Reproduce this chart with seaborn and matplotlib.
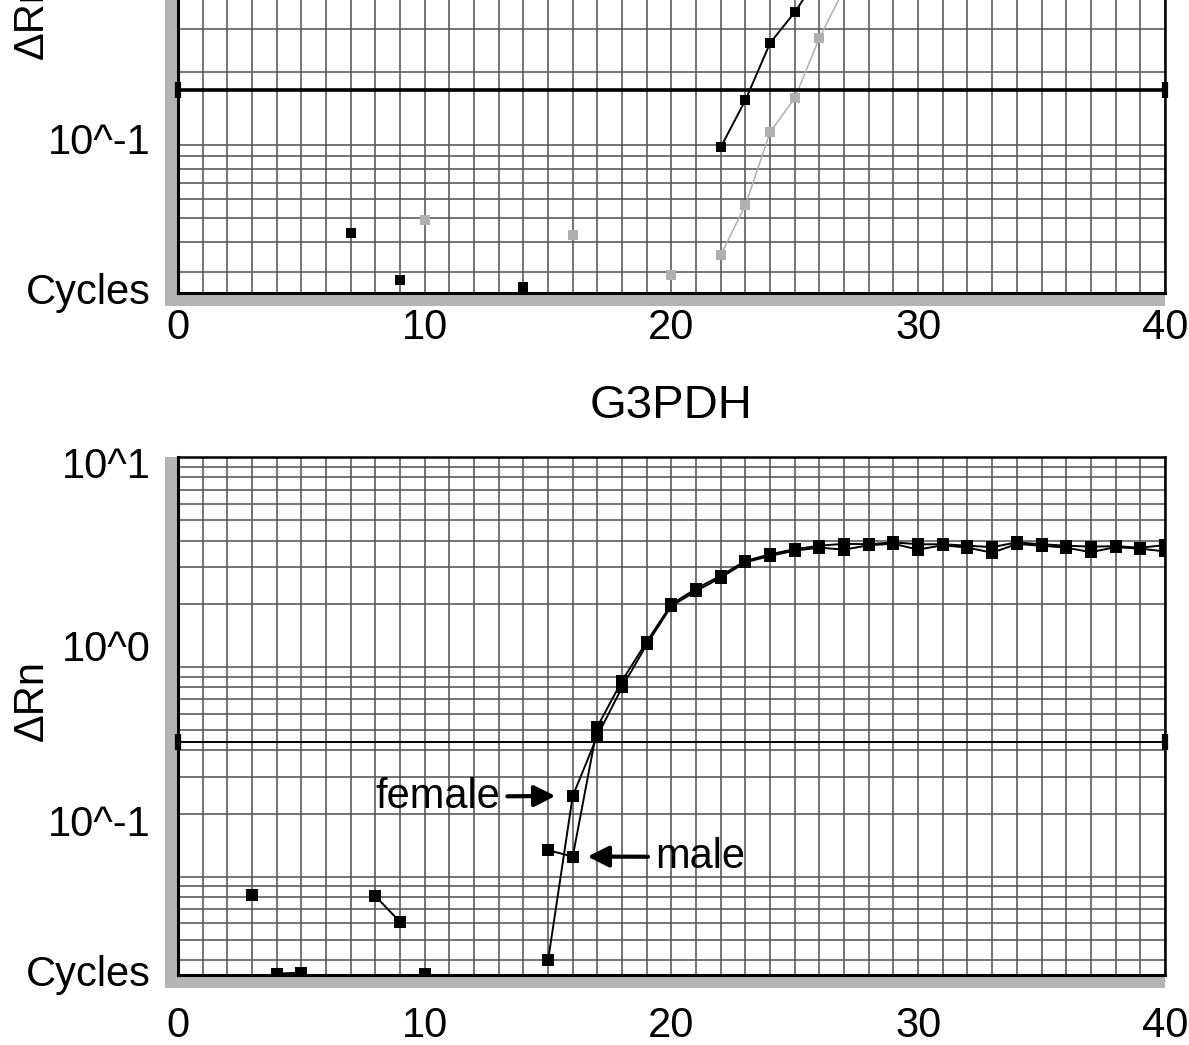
import numpy as np
import pandas as pd
import matplotlib
matplotlib.use('Agg')
import matplotlib.pyplot as plt
import matplotlib.ticker as mticker
from matplotlib.patches import Rectangle
import seaborn as sns

nan = np.nan
cycles = list(range(1, 41))

# G3PDH panel: delta Rn per cycle (nan = not drawn, below the log axis)
g3pdh_female = [nan, nan, 0.082, nan, nan, nan, nan, 0.081, 0.061, nan,
                nan, nan, nan, nan, 0.040, 0.243, 0.47, 0.80, 1.28, 1.95,
                2.30, 2.66, 3.15, 3.38, 3.58, 3.70, 3.62, 3.80, 3.86, 3.62,
                3.80, 3.70, 3.50, 3.85, 3.78, 3.70, 3.52, 3.72, 3.66, 3.55]
g3pdh_male = [nan, nan, nan, 0.0346, 0.035, nan, nan, nan, nan, 0.0346,
              nan, nan, nan, nan, 0.134, 0.125, 0.52, 0.86, 1.32, 1.99,
              2.36, 2.72, 3.20, 3.44, 3.64, 3.78, 3.86, 3.84, 3.92, 3.84,
              3.84, 3.78, 3.72, 3.92, 3.84, 3.78, 3.74, 3.76, 3.70, 3.80]
g3pdh_threshold = 0.44

# upper (cropped) panel
top_black = [nan, nan, nan, nan, nan, nan, 0.0435, nan, 0.0278, nan,
             nan, nan, nan, 0.026, nan, nan, nan, nan, nan, nan,
             nan, 0.098, 0.153, 0.263, 0.352, 0.50, nan, nan, nan, nan,
             nan, nan, nan, nan, nan, nan, nan, nan, nan, nan]
top_gray = [nan, nan, nan, nan, nan, nan, nan, nan, nan, 0.049,
            nan, nan, nan, nan, nan, 0.0427, nan, nan, nan, 0.0292,
            nan, 0.0353, 0.0566, 0.113, 0.156, 0.276, 0.44, nan, nan, nan,
            nan, nan, nan, nan, nan, nan, nan, nan, nan, nan]
top_threshold = 0.168

x_ticks = [0, 10, 20, 30, 40]
y_labels = ["10^1", "10^0", "10^-1", "Cycles"]
y_label_pos = [0.98, 0.627, 0.29, 0.0]   # where the software printed them (axes fraction)


def to_long(values, name):
    s = pd.Series(values, dtype=float)
    seg = s.isna().cumsum()
    df = pd.DataFrame({'cycle': cycles, 'dRn': s.values,
                       'seg': [f'{name}_{k}' for k in seg]})
    return df.dropna()


def draw_series(ax, values, name, color, ms, lw):
    df = to_long(values, name)
    sns.lineplot(data=df, x='cycle', y='dRn', units='seg', estimator=None,
                 color=color, marker='s', markersize=ms, markeredgecolor=color,
                 markeredgewidth=0, linewidth=lw, legend=False, ax=ax)


def style_panel(ax, ylim, xpad, threshold, thr_lw, n_labels):
    ax.set_yscale('log')
    ax.set_xlim(0, 40)
    ax.set_ylim(*ylim)
    ax.xaxis.set_major_locator(mticker.FixedLocator(x_ticks))
    ax.xaxis.set_minor_locator(mticker.MultipleLocator(1))
    ax.yaxis.set_major_locator(mticker.LogLocator(base=10))
    ax.yaxis.set_minor_locator(mticker.LogLocator(base=10, subs=np.arange(2, 10), numticks=20))
    ax.yaxis.set_major_formatter(mticker.NullFormatter())
    ax.yaxis.set_minor_formatter(mticker.NullFormatter())
    ax.grid(True, which='both', color='#555555', lw=1.15)
    ax.set_axisbelow(True)
    ax.tick_params(which='both', direction='out', length=9.5, width=1.5, color='black')
    ax.tick_params(axis='x', which='both', labelsize=30, pad=xpad, labelcolor='black')
    ax.set_xlabel('')
    for side in ['left', 'bottom']:
        ax.spines[side].set_linewidth(2.2)
    for side in ['top', 'right']:
        ax.spines[side].set_linewidth(1.8)
    for sp in ax.spines.values():
        sp.set_color('black')
    # gray strips the ticks sit in
    ax.add_patch(Rectangle((-0.0132, -0.025), 0.0132, 1.025, transform=ax.transAxes,
                           clip_on=False, color='#b4b4b4', zorder=0.1, lw=0))
    ax.add_patch(Rectangle((-0.0132, -0.025), 1.0132, 0.025, transform=ax.transAxes,
                           clip_on=False, color='#b4b4b4', zorder=0.1, lw=0))
    for lbl, pos in list(zip(y_labels, y_label_pos))[-n_labels:]:
        ax.text(-0.028, pos, lbl, transform=ax.transAxes, ha='right', va='center',
                fontsize=30, color='black')
    ax.set_ylabel('\u0394Rn', fontsize=30, color='black')
    ax.yaxis.set_label_coords(-0.128, 0.53)
    # threshold line with its drag handles
    ax.plot([0, 40], [threshold, threshold], color='black', lw=thr_lw, zorder=3)
    ax.plot([0, 40], [threshold, threshold], ls='none', marker='|', color='black',
            markersize=12, markeredgewidth=4.5, zorder=4, clip_on=False)


sns.set_theme(style='white')
plt.rcParams['font.family'] = ['Liberation Sans', 'DejaVu Sans']
plt.rcParams['text.color'] = 'black'
plt.rcParams['axes.labelcolor'] = 'black'

fig = plt.figure(figsize=(11.89, 10.45), dpi=100)
ax_top = fig.add_axes([0.1497, 0.7196, 0.830, 0.4957])
ax_bot = fig.add_axes([0.1497, 0.0670, 0.830, 0.4957])

# upper panel (only its lower part is in the picture)
draw_series(ax_top, top_gray, 'gray', '#b0b0b0', 7.5, 1.1)
draw_series(ax_top, top_black, 'black', 'black', 7.5, 1.4)
style_panel(ax_top, (0.0246, 3.33), 1, top_threshold, 2.6, 2)

# G3PDH panel
draw_series(ax_bot, g3pdh_female, 'female', 'black', 8.5, 1.4)
draw_series(ax_bot, g3pdh_male, 'male', 'black', 8.5, 1.4)
style_panel(ax_bot, (0.0341, 10), 13, g3pdh_threshold, 1.4, 4)
ax_bot.set_title('G3PDH', fontsize=34, pad=28, color='black')

arrow = dict(arrowstyle='-|>', lw=3, color='black', mutation_scale=32, shrinkA=3, shrinkB=0)
ax_bot.annotate('female', xy=(15.3, 0.243), xytext=(13.05, 0.2405), ha='right', va='center',
                fontsize=30, arrowprops=arrow)
ax_bot.annotate('male', xy=(16.6, 0.125), xytext=(19.35, 0.1245), ha='left', va='center',
                fontsize=30, arrowprops=arrow)

fig.savefig('out.png', dpi=100)
